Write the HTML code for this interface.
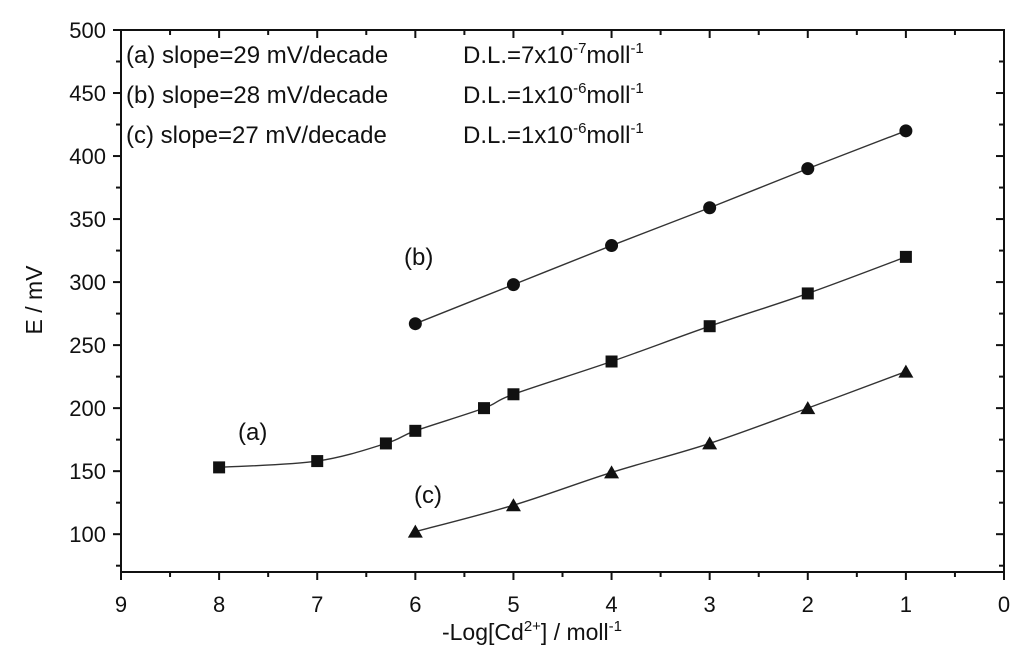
<!DOCTYPE html>
<html><head><meta charset="utf-8"><style>
html,body{margin:0;padding:0;background:#fff;}
svg{display:block;font-family:"Liberation Sans",Arial,sans-serif;}
</style></head><body>
<svg id="chart" width="1024" height="660">
<rect width="1024" height="660" fill="#fff"/>
<g id="axes"></g>
<g id="series"></g>
<g font-size="24" fill="#111">
<text x="126" y="63">(a) slope=29 mV/decade<tspan x="463">D.L.=7x10</tspan><tspan dy="-10" font-size="15">-7</tspan><tspan dy="10">moll</tspan><tspan dy="-10" font-size="15">-1</tspan></text>
<text x="126" y="103">(b) slope=28 mV/decade<tspan x="463">D.L.=1x10</tspan><tspan dy="-10" font-size="15">-6</tspan><tspan dy="10">moll</tspan><tspan dy="-10" font-size="15">-1</tspan></text>
<text x="126" y="143">(c) slope=27 mV/decade<tspan x="463">D.L.=1x10</tspan><tspan dy="-10" font-size="15">-6</tspan><tspan dy="10">moll</tspan><tspan dy="-10" font-size="15">-1</tspan></text>
</g>
<text x="238" y="440" font-size="24" fill="#111">(a)</text>
<text x="404" y="265" font-size="24" fill="#111">(b)</text>
<text x="414" y="503" font-size="24" fill="#111">(c)</text>
<text x="532" y="640" font-size="23" text-anchor="middle" fill="#111">-Log[Cd<tspan dy="-9" font-size="15">2+</tspan><tspan dy="9">] / moll</tspan><tspan dy="-9" font-size="15">-1</tspan></text>
<text transform="translate(42,300) rotate(-90)" font-size="23" text-anchor="middle" fill="#111">E / mV</text>
</svg>
<script>
const xTicks=[9,8,7,6,5,4,3,2,1,0];
const yTicks=[100,150,200,250,300,350,400,450,500];
const aX=[8,7,6.3,6,5.3,5,4,3,2,1];
const aY=[153,158,172,182,200,211,237,265,291,320];
const bX=[6,5,4,3,2,1];
const bY=[267,298,329,359,390,420];
const cX=[6,5,4,3,2,1];
const cY=[102,123,149,172,200,229];
const X0=121,X1=1004,Y0=30,Y1=572,XMAX=9,XMIN=0,YMAX=500,YMIN=70;
const sx=v=>X0+(XMAX-v)/(XMAX-XMIN)*(X1-X0);
const sy=v=>Y0+(YMAX-v)/(YMAX-YMIN)*(Y1-Y0);
const NS="http://www.w3.org/2000/svg";
function mk(t,attrs,parent){const e=document.createElementNS(NS,t);for(const k in attrs)e.setAttribute(k,attrs[k]);parent.appendChild(e);return e;}
const ax=document.getElementById('axes');
const frame=mk('rect',{x:X0,y:Y0,width:X1-X0,height:Y1-Y0,fill:'none',stroke:'#111','stroke-width':2},ax);


for(let i=0;i<xTicks.length;i++){
  const v=xTicks[i],x=sx(v);
  mk('line',{x1:x,x2:x,y1:Y1,y2:Y1+8,stroke:'#111','stroke-width':2},ax);
  mk('line',{x1:x,x2:x,y1:Y0,y2:Y0+8,stroke:'#111','stroke-width':2},ax);
  if(i<xTicks.length-1){const xm=sx(v-0.5);
    mk('line',{x1:xm,x2:xm,y1:Y1,y2:Y1+5,stroke:'#111','stroke-width':2},ax);
    mk('line',{x1:xm,x2:xm,y1:Y0,y2:Y0+5,stroke:'#111','stroke-width':2},ax);}
  const t=mk('text',{x:x,y:Y1+40,'font-size':22,'text-anchor':'middle',fill:'#111'},ax);
  t.textContent=v;
  
  
}
for(let i=0;i<yTicks.length;i++){
  const v=yTicks[i],y=sy(v);
  mk('line',{x1:X0-8,x2:X0,y1:y,y2:y,stroke:'#111','stroke-width':2},ax);
  mk('line',{x1:X1,x2:X1-8,y1:y,y2:y,stroke:'#111','stroke-width':2},ax);
  const ym=sy(v-25);
  mk('line',{x1:X0-5,x2:X0,y1:ym,y2:ym,stroke:'#111','stroke-width':2},ax);
  mk('line',{x1:X1,x2:X1-5,y1:ym,y2:ym,stroke:'#111','stroke-width':2},ax);
  const t=mk('text',{x:X0-15,y:y+8,'font-size':22,'text-anchor':'end',fill:'#111'},ax);
  t.textContent=v;
  
  
}
const sg=document.getElementById('series');
function curve(xs,ys){
  const p=xs.map((v,i)=>[sx(v),sy(ys[i])]);
  let d='M'+p[0][0]+','+p[0][1];
  for(let i=0;i<p.length-1;i++){
    const p0=p[i-1]||p[i],p1=p[i],p2=p[i+1],p3=p[i+2]||p2;
    const c1=[p1[0]+(p2[0]-p0[0])/6,p1[1]+(p2[1]-p0[1])/6];
    const c2=[p2[0]-(p3[0]-p1[0])/6,p2[1]-(p3[1]-p1[1])/6];
    d+=' C'+c1+' '+c2+' '+p2;
  }
  return d;
}
function series(xs,ys,shape,name){
  const g=mk('g',{},sg);
  
  
  const l=mk('path',{d:curve(xs,ys),fill:'none',stroke:'#333','stroke-width':1.4},g);
  
  
  xs.forEach((v,i)=>{
    const x=sx(v),y=sy(ys[i]);let m;
    if(shape==='sq')m=mk('rect',{x:x-6,y:y-6,width:12,height:12,fill:'#111'},g);
    else if(shape==='ci')m=mk('circle',{cx:x,cy:y,r:6.5,fill:'#111'},g);
    else m=mk('polygon',{points:`${x},${y-7} ${x-7.5},${y+6} ${x+7.5},${y+6}`,fill:'#111'},g);
    
    
  });
}
series(aX,aY,'sq','a');
series(bX,bY,'ci','b');
series(cX,cY,'tr','c');
</script>
</body></html>
